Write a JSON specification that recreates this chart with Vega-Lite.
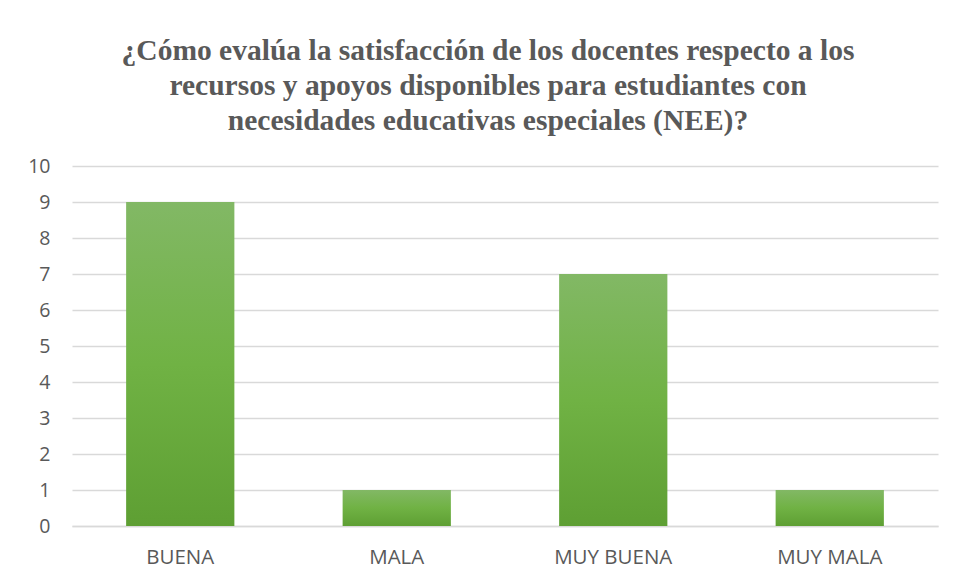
{
  "$schema": "https://vega.github.io/schema/vega-lite/v6.json",
  "width": 866,
  "height": 360,
  "autosize": {"type": "none"},
  "padding": {"left": 72, "top": 166, "right": 18, "bottom": 55},
  "background": "white",
  "title": {
    "text": ["¿Cómo evalúa la satisfacción de los docentes respecto a los", "recursos y apoyos disponibles para estudiantes con", "necesidades educativas especiales (NEE)?"],
    "font": "Liberation Serif",
    "fontSize": 29.5,
    "fontWeight": "bold",
    "color": "#595959",
    "lineHeight": 35,
    "anchor": "middle",
    "dx": -17,
    "offset": 20
  },
  "data": {
    "values": [
      {"categoria": "BUENA", "valor": 9},
      {"categoria": "MALA", "valor": 1},
      {"categoria": "MUY BUENA", "valor": 7},
      {"categoria": "MUY MALA", "valor": 1}
    ]
  },
  "mark": {
    "type": "bar",
    "color": {
      "gradient": "linear",
      "x1": 0, "y1": 0, "x2": 0, "y2": 1,
      "stops": [
        {"offset": 0, "color": "#82b865"},
        {"offset": 0.5, "color": "#70b244"},
        {"offset": 1, "color": "#5e9f33"}
      ]
    }
  },
  "encoding": {
    "x": {
      "field": "categoria",
      "type": "nominal",
      "sort": null,
      "scale": {"paddingInner": 0.5, "paddingOuter": 0.25},
      "axis": {
        "title": null,
        "labelAngle": 0,
        "labelFont": "Open Sans",
        "labelFontSize": 20.5,
        "labelColor": "#595959",
        "labelPadding": 21,
        "ticks": false,
        "domainColor": "#d9d9d9",
        "domainWidth": 1.5
      }
    },
    "y": {
      "field": "valor",
      "type": "quantitative",
      "scale": {"domain": [0, 10]},
      "axis": {
        "title": null,
        "values": [0, 1, 2, 3, 4, 5, 6, 7, 8, 9, 10],
        "labelFont": "Open Sans",
        "labelFontSize": 19.5,
        "labelColor": "#595959",
        "labelPadding": 22,
        "ticks": false,
        "domain": false,
        "gridColor": "#d9d9d9",
        "gridWidth": 1.5
      }
    }
  },
  "config": {
    "view": {"stroke": null}
  }
}
